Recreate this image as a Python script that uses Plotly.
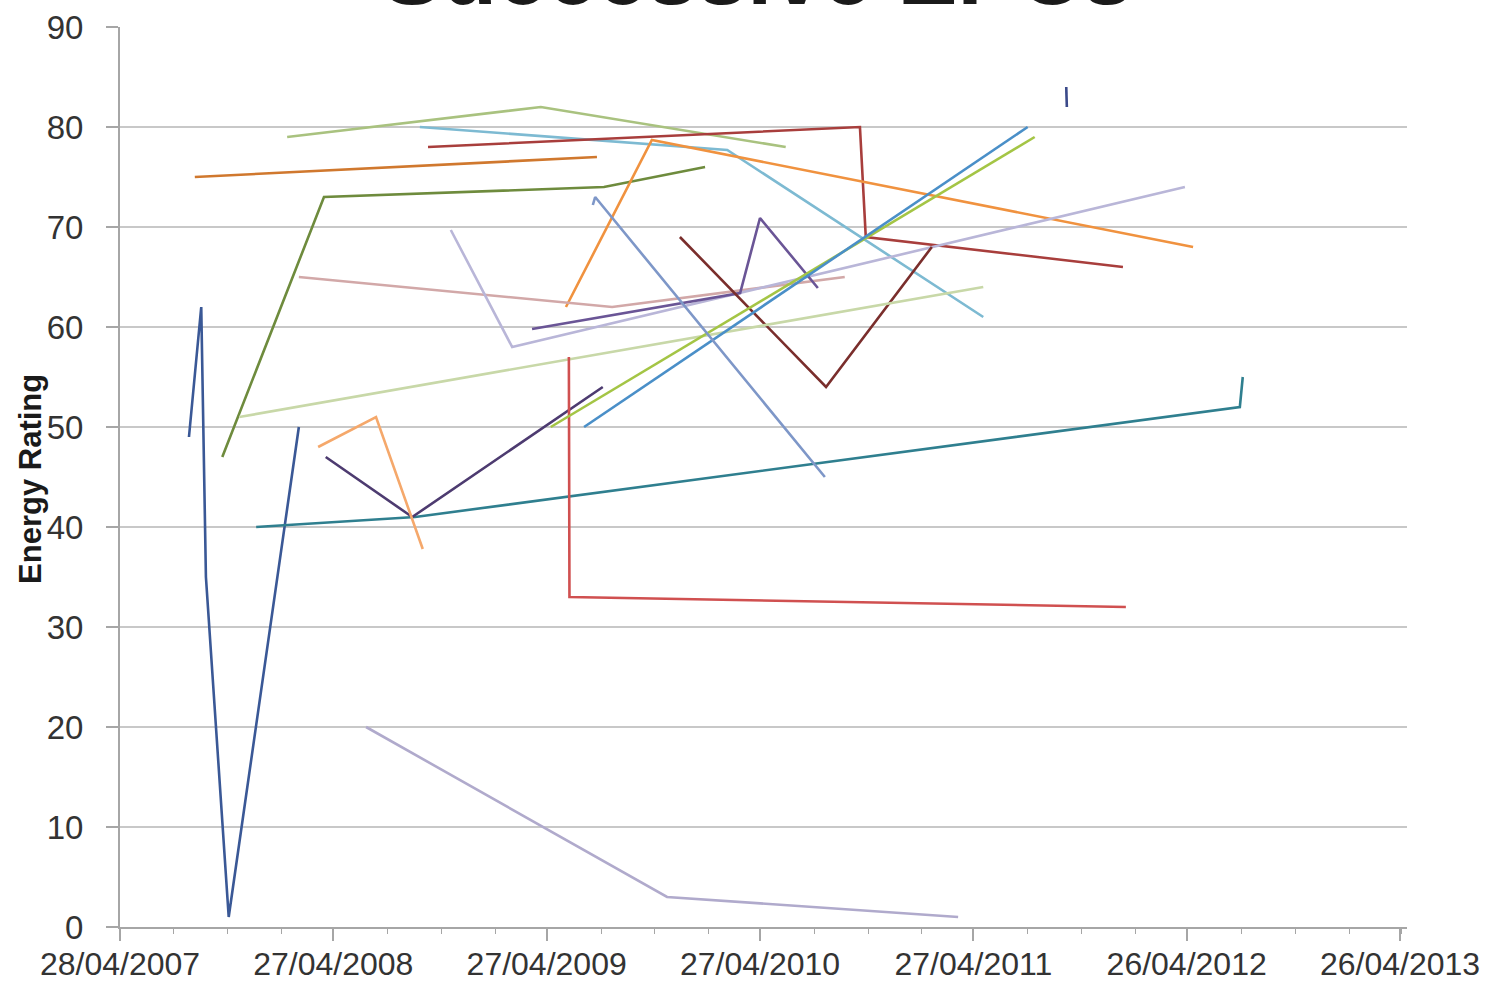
import plotly.graph_objects as go

# ---------------- data (dates, energy ratings) ----------------
navy_dates = ["2007-08-24", "2007-09-14", "2007-09-22", "2007-10-31", "2008-02-28"]
navy_vals = [49, 62, 35, 1, 50]

olive_dates = ["2007-10-20", "2008-04-11", "2009-08-03", "2010-01-23"]
olive_vals = [47, 73, 74, 76]

brown_orange_dates = ["2007-09-03", "2009-07-22"]
brown_orange_vals = [75, 77]

sage_dates = ["2008-02-08", "2009-04-17", "2010-06-10"]
sage_vals = [79, 82, 78]

aqua_dates = ["2008-09-22", "2010-03-02", "2011-05-14"]
aqua_vals = [80, 77.7, 61]

red_dates = ["2008-10-06", "2010-10-15", "2010-10-25", "2012-01-08"]
red_vals = [78, 80, 69, 66]

orange_dates = ["2009-05-30", "2009-10-24", "2012-05-07"]
orange_vals = [62, 78.7, 68]

mauve_dates = ["2008-02-28", "2009-08-17", "2010-09-19"]
mauve_vals = [65, 62, 65]

lavender_dates = ["2008-11-14", "2009-02-27", "2012-04-23"]
lavender_vals = [69.7, 58, 74]

purple_dates = ["2009-04-02", "2010-03-24", "2010-04-27", "2010-08-04"]
purple_vals = [59.8, 63.4, 70.9, 63.9]

maroon_dates = ["2009-12-11", "2010-08-18", "2011-02-15"]
maroon_vals = [69, 54, 68]

teal_dates = ["2007-12-17", "2008-09-14", "2012-07-26", "2012-07-31"]
teal_vals = [40, 41, 52, 55]

dark_purple_dates = ["2008-04-14", "2008-09-09", "2009-08-01"]
dark_purple_vals = [47, 41, 54]

tan_dates = ["2008-04-01", "2008-07-09", "2008-09-27"]
tan_vals = [48, 51, 37.8]

pale_sage_dates = ["2007-11-18", "2011-05-14"]
pale_sage_vals = [51, 64]

light_red_dates = ["2009-06-04", "2009-06-05", "2012-01-13"]
light_red_vals = [57, 33, 32]

yellow_green_dates = ["2009-05-04", "2011-08-10"]
yellow_green_vals = [50, 79]

blue_dates = ["2009-06-30", "2011-07-29"]
blue_vals = [50, 80]

steel_dates = ["2009-07-15", "2009-07-19", "2010-08-16"]
steel_vals = [72.2, 73, 45]

lilac_dates = ["2008-06-22", "2009-11-19", "2011-04-01"]
lilac_vals = [20, 3, 1]

tick_dates = ["2011-10-03", "2011-10-04"]
tick_vals = [84, 82]

x_tick_dates = ["2007-04-28", "2008-04-27", "2009-04-27", "2010-04-27",
                "2011-04-27", "2012-04-26", "2013-04-26"]
x_tick_labels = ["28/04/2007", "27/04/2008", "27/04/2009", "27/04/2010",
                 "27/04/2011", "26/04/2012", "26/04/2013"]

# ---------------- styling ----------------
series = [
    (navy_dates, navy_vals, "#3A5896"),
    (olive_dates, olive_vals, "#6E8B3D"),
    (brown_orange_dates, brown_orange_vals, "#D0782E"),
    (sage_dates, sage_vals, "#A9C27F"),
    (aqua_dates, aqua_vals, "#7DBAD2"),
    (red_dates, red_vals, "#A83E3C"),
    (orange_dates, orange_vals, "#F0923F"),
    (mauve_dates, mauve_vals, "#D2A8A8"),
    (lavender_dates, lavender_vals, "#B9B6D8"),
    (purple_dates, purple_vals, "#6A5596"),
    (maroon_dates, maroon_vals, "#7A2E2C"),
    (teal_dates, teal_vals, "#2F7F8F"),
    (dark_purple_dates, dark_purple_vals, "#4D3B70"),
    (tan_dates, tan_vals, "#F5A86B"),
    (pale_sage_dates, pale_sage_vals, "#C8D8A8"),
    (light_red_dates, light_red_vals, "#D05050"),
    (yellow_green_dates, yellow_green_vals, "#A4C545"),
    (blue_dates, blue_vals, "#4A8FC8"),
    (steel_dates, steel_vals, "#7E97C8"),
    (lilac_dates, lilac_vals, "#B0AACC"),
    (tick_dates, tick_vals, "#3B4A8A"),
]

fig = go.Figure()
for d, v, c in series:
    fig.add_trace(go.Scatter(x=d, y=v, mode="lines",
                             line=dict(color=c, width=2.6), showlegend=False))

font_family = "Liberation Sans, Arial, sans-serif"

fig.update_layout(
    width=1491, height=984,
    margin=dict(l=120, r=84, t=27, b=57, autoexpand=False),
    paper_bgcolor="white", plot_bgcolor="white",
    showlegend=False,
    font=dict(family=font_family, color="#333333"),
)

fig.update_xaxes(
    type="date",
    range=["2007-04-28", "2013-05-08"],
    automargin=False,
    tickvals=x_tick_dates, ticktext=x_tick_labels,
    tickfont=dict(size=32, family=font_family, color="#333333"),
    showgrid=False, zeroline=False,
    showline=True, linecolor="#A6A6A6", linewidth=2,
    ticks="outside", ticklen=12, tickcolor="#A6A6A6", tickwidth=2,
    minor=dict(tick0="2007-04-28", dtick="M3", ticks="outside",
               ticklen=5, tickcolor="#A6A6A6", tickwidth=1, showgrid=False),
    ticklabelstandoff=-4,
)

fig.update_yaxes(
    range=[0, 90], dtick=10, tick0=0,
    automargin=False,
    tickfont=dict(size=33, family=font_family, color="#333333"),
    showgrid=True, gridcolor="#C8C8C8", gridwidth=2,
    zeroline=False,
    showline=True, linecolor="#A6A6A6", linewidth=2,
    ticks="outside", ticklen=12, tickcolor="#A6A6A6", tickwidth=2,
    ticklabelstandoff=16,
)

# y-axis title
fig.add_annotation(
    text="<b>Energy Rating</b>", textangle=-90,
    xref="paper", yref="paper", x=-0.0692, y=0.4978,
    xanchor="center", yanchor="middle", showarrow=False,
    font=dict(size=31, family=font_family, color="#1a1a1a"),
)

# chart title (mostly cut off at the top edge, as in the source)
fig.add_annotation(
    text="<b>Successive EPCs</b>",
    xref="paper", yref="paper", x=0.495, y=1.0, yshift=2,
    xanchor="center", yanchor="bottom", showarrow=False,
    font=dict(size=90, family=font_family, color="#1a1a1a"),
)

fig.write_html(
    "out.html",
    config={"displayModeBar": False},
    post_script="document.body.style.margin='0';document.body.style.padding='0';",
)
